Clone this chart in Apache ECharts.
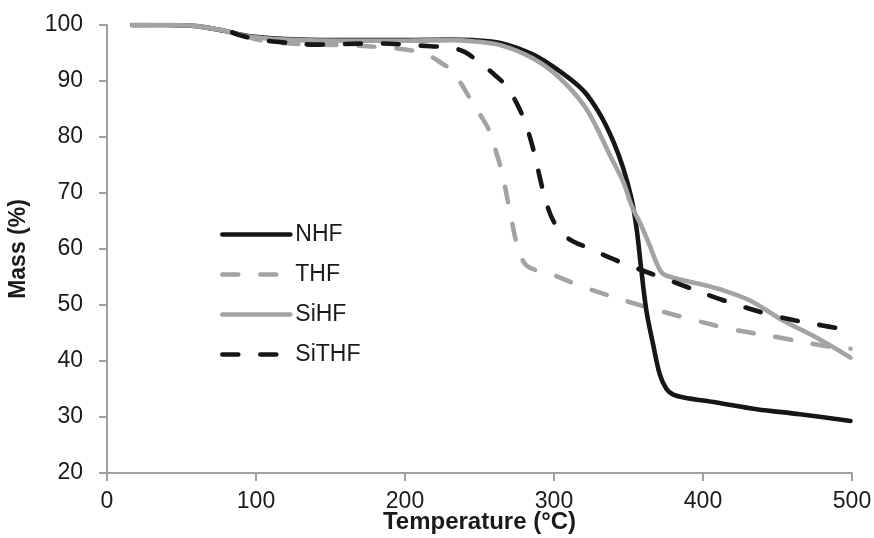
<!DOCTYPE html>
<html>
<head>
<meta charset="utf-8">
<script src="https://cdn.jsdelivr.net/npm/echarts@6/dist/echarts.min.js"></script>
<style>
  html, body { margin: 0; padding: 0; background: #fff; }
  #chart { width: 874px; height: 538px; }
</style>
</head>
<body>
<div id="chart"></div>
<script>
// Thermogravimetric curves: mass remaining (%) versus temperature (°C)
const seriesNames = ['NHF', 'THF', 'SiHF', 'SiTHF'];
const xTicks = [0, 100, 200, 300, 400, 500];
const yTicks = [20, 30, 40, 50, 60, 70, 80, 90, 100];

// [temperature, mass]
const nhf = [
  [17, 100], [40, 100], [60, 99.8], [78, 99.0], [96, 98.0], [130, 97.4], [160, 97.3],
  [200, 97.3], [230, 97.4], [245, 97.3], [264, 96.8], [286, 94.7], [304, 91.7],
  [320, 88.2], [331, 84.0], [340, 79.1], [346.5, 74.4], [352, 69.0], [355.5, 63.5],
  [358.5, 56.5], [362, 49.0], [366.5, 43.0], [371, 37.6], [375.5, 35.0], [380, 34.0],
  [387, 33.5], [409, 32.6], [436, 31.4], [465, 30.5], [499, 29.3]
];
const thf = [
  [17, 100], [40, 100], [60, 99.8], [78, 99.0], [90, 98.2], [105, 97.2], [130, 96.6],
  [160, 96.4], [190, 95.9], [210, 95.2], [218, 94.3], [225, 93.1], [230, 92.2],
  [237, 89.8], [243.6, 86.9], [250, 84.2], [257, 80.9], [261, 77.5], [265, 73.7],
  [270.5, 66.6], [274, 62.0], [277, 59.2], [281, 57.2], [287, 56.3], [297, 55.6],
  [320, 53.2], [351, 50.5], [387, 47.8], [419, 45.7], [453, 44.1], [486, 42.5], [499, 42.2]
];
const sihf = [
  [17, 100], [40, 100], [60, 99.8], [78, 99.0], [96, 97.9], [130, 97.3], [160, 97.2],
  [200, 97.2], [230, 97.3], [245, 97.1], [264, 96.4], [286, 94.0], [304, 90.5],
  [320, 85.7], [329, 81.5], [337.6, 76.7], [346.5, 72.0], [352, 67.8], [358, 64.5],
  [364, 60.8], [369, 57.4], [373, 55.6], [382.5, 54.7], [400, 53.6], [413.6, 52.6],
  [431.5, 50.8], [454, 47.2], [476, 44.2], [499, 40.6]
];
const sithf = [
  [84, 98.7], [90, 98.1], [100, 97.5], [114, 97.0], [141, 96.5], [156, 96.6],
  [183, 96.7], [200, 96.5], [217, 96.2], [230, 96.0], [240, 95.2], [248, 93.7],
  [258, 91.6], [268.3, 89.0], [275, 86.0], [280.5, 82.7], [286, 77.9], [291.7, 71.4],
  [296, 67.3], [300, 64.8], [306, 62.6], [314, 61.2], [323, 60.2], [337, 58.5],
  [352, 56.9], [380.5, 54.1], [413, 50.9], [447.6, 48.1], [481, 46.3], [495, 45.7]
];

const BLACK = '#161616';
const GRAY = '#a3a3a3';
const AXIS = '#a0a0a0';
const FONT = '"Liberation Sans", Arial, sans-serif';
const LINE_W = 4.6;

function lineSeries(name, data, color, dashed, z) {
  return {
    name: name,
    type: 'line',
    data: data,
    z: z,
    smooth: 0.35,
    symbol: 'none',
    showSymbol: false,
    lineStyle: {
      color: color,
      width: LINE_W,
      type: dashed ? [16, 22] : 'solid',
      cap: 'round',
      join: 'round'
    },
    itemStyle: { color: color }
  };
}

const chart = echarts.init(document.getElementById('chart'), null, { renderer: 'canvas' });

chart.setOption({
  animation: false,
  backgroundColor: '#fff',
  textStyle: { fontFamily: FONT },
  grid: {
    left: 107, right: 22, top: 25, bottom: 65,
    containLabel: false,
    outerBoundsMode: 'none'
  },
  legend: {
    data: seriesNames,
    orient: 'vertical',
    left: 220,
    top: 223,
    padding: 0,
    itemWidth: 68,
    itemHeight: 14,
    itemGap: 17,
    itemStyle: { opacity: 0 },
    lineStyle: { width: LINE_W, cap: 'round' },
    textStyle: { fontSize: 23, color: '#1a1a1a', fontFamily: FONT }
  },
  xAxis: {
    type: 'value',
    min: xTicks[0],
    max: xTicks[xTicks.length - 1],
    interval: 100,
    name: 'Temperature (°C)',
    nameLocation: 'middle',
    nameGap: 37,
    nameMoveOverlap: false,
    nameTextStyle: { fontSize: 24, fontWeight: 'bold', color: '#1a1a1a', fontFamily: FONT },
    axisLine: { lineStyle: { color: AXIS, width: 2 } },
    axisTick: { show: true, length: 8, lineStyle: { color: AXIS, width: 2 } },
    axisLabel: { fontSize: 23, color: '#1a1a1a', margin: 17, fontFamily: FONT },
    splitLine: { show: false }
  },
  yAxis: {
    type: 'value',
    min: yTicks[0],
    max: yTicks[yTicks.length - 1],
    interval: 10,
    name: 'Mass (%)',
    nameLocation: 'middle',
    nameGap: 77,
    nameMoveOverlap: false,
    nameTextStyle: { fontSize: 23, fontWeight: 'bold', color: '#1a1a1a', fontFamily: FONT },
    axisLine: { show: true, lineStyle: { color: AXIS, width: 2 } },
    axisTick: { show: true, length: 8, lineStyle: { color: AXIS, width: 2 } },
    axisLabel: { fontSize: 23, color: '#1a1a1a', margin: 24, fontFamily: FONT },
    splitLine: { show: false }
  },
  series: [
    lineSeries('THF', thf, GRAY, true, 2),
    lineSeries('NHF', nhf, BLACK, false, 3),
    lineSeries('SiHF', sihf, GRAY, false, 4),
    lineSeries('SiTHF', sithf, BLACK, true, 5)
  ]
});
</script>
</body>
</html>
